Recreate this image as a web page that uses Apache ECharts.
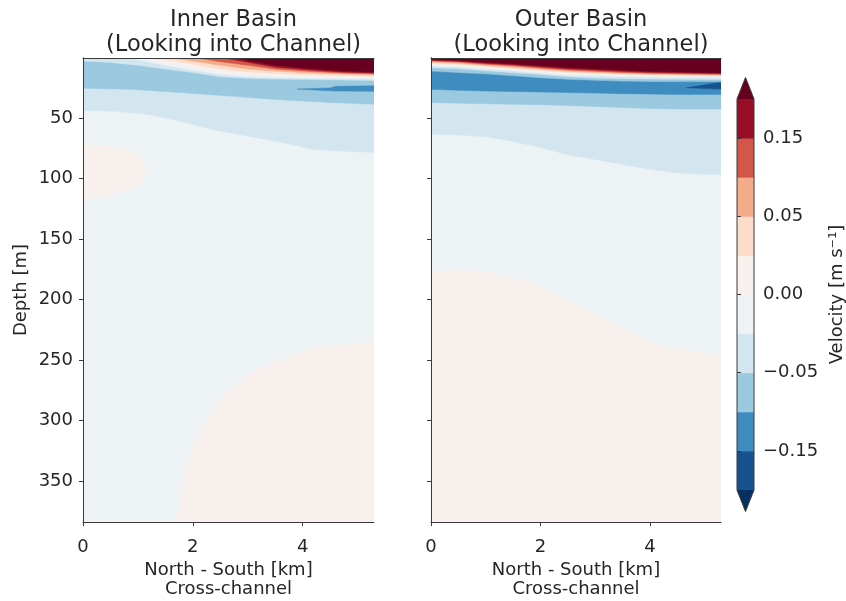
<!DOCTYPE html>
<html><head><meta charset="utf-8">
<script src="https://cdn.jsdelivr.net/npm/echarts@6/dist/echarts.min.js"></script>
<style>html,body{margin:0;padding:0;background:#fff}#c{width:846px;height:601px}</style>
</head><body><div id="c"></div>
<script>
// ================= DATA =================
const levels = [-0.2, -0.15, -0.1, -0.05, -0.025, 0, 0.025, 0.05, 0.1, 0.15, 0.2];
const cbarTickLevels = [-0.15, -0.05, 0, 0.05, 0.15];
const xTicks = [0, 2, 4];
const depthTicks = [50, 100, 150, 200, 250, 300, 350];
const xRange = [0, 5.3];
const depthRange = [0.5, 384];
const panelTitles = ['Inner Basin\n(Looking into Channel)', 'Outer Basin\n(Looking into Channel)'];

// Inner basin contour lines: [cross-channel km, depth m]
const inner_p200  = [[2.8,0],[3.0,2.5],[3.5,6.5],[4.1,9],[4.7,11],[5.3,12]];
const inner_p150  = [[2.45,0],[2.7,1.5],[3.0,4],[3.5,8],[4.1,10.3],[4.7,12],[5.3,12.8]];
const inner_p100  = [[2.0,0],[2.5,3.5],[3.0,6.5],[3.5,9.5],[4.1,11.5],[4.7,12.8],[5.3,13.6]];
const inner_p050  = [[1.55,0],[2.0,3],[2.5,6.5],[3.0,9.5],[3.5,11.3],[4.1,12.8],[4.7,13.8],[5.3,14.5]];
const inner_p025  = [[1.2,0],[1.5,2],[2.0,5.5],[2.5,9.5],[3.0,12],[3.5,13.3],[4.1,14.3],[4.7,15],[5.3,15.5]];
const inner_z000  = [[0.95,0],[1.5,4.5],[2.0,8],[2.5,12],[3.0,14],[3.5,15],[4.1,15.8],[4.7,16.2],[5.3,16.6]];
const inner_m025u = [[0.7,0],[1.0,2],[1.5,6.5],[2.0,10.5],[2.5,14],[3.0,15.8],[3.5,16.5],[4.1,17],[4.7,17.4],[5.3,17.7]];
const inner_m050u = [[0,3],[0.5,4.2],[1.0,6.5],[1.5,9.5],[2.0,12.5],[2.5,16],[3.0,17.3],[3.5,17.9],[4.1,18.2],[4.7,18.6],[5.3,19]];
const inner_m100lens = [[3.9,26.2],[4.5,25.2],[4.6,23.9],[5.3,23.5],[5.3,28],[4.6,27.8],[4.3,27.2]];
const inner_m050l = [[0,25.6],[0.85,26.4],[1.76,29],[2.67,32],[3.5,34.7],[4.4,37],[5.3,38.8]];
const inner_m025l = [[0,43.8],[0.5,44.4],[1.16,47],[1.76,52.6],[2.36,59.5],[2.98,65],[3.58,70],[4.18,76],[4.8,77.7],[5.3,78.5]];
const inner_blob  = [[0,72],[0.5,73.5],[0.9,77.5],[1.05,82],[1.16,92.6],[1.05,104],[0.9,108],[0.5,114],[0,117]];
const inner_deep  = [[1.71,384],[1.82,349],[2.0,321],[2.25,299],[2.55,280],[2.98,263],[3.58,250],[4.18,241],[4.98,236],[5.3,236]];

// Outer basin contour depths (m) at these cross-channel positions (km)
const outerX      = [0, 0.5, 1, 1.5, 2, 2.5, 3, 3.5, 4, 4.5, 5, 5.3];
const outer_p200  = [1.7, 2.4, 4, 5.2, 6.8, 8.3, 9.3, 10.5, 11.4, 11.9, 12.3, 12.6];
const outer_p150  = [2.3, 3.1, 4.8, 6.1, 7.8, 9.4, 10.4, 11.5, 12.3, 12.7, 13.1, 13.3];
const outer_p100  = [3, 3.9, 5.6, 7, 8.8, 10.4, 11.4, 12.4, 13.1, 13.5, 13.8, 14];
const outer_p050  = [4, 4.9, 6.6, 8.1, 9.9, 11.5, 12.4, 13.3, 13.9, 14.2, 14.5, 14.7];
const outer_p025  = [5, 5.9, 7.6, 9.1, 10.9, 12.5, 13.3, 14.1, 14.6, 14.9, 15.1, 15.3];
const outer_z000  = [6, 6.9, 8.6, 10.1, 11.9, 13.5, 14.2, 14.9, 15.4, 15.6, 15.8, 16];
const outer_m025u = [7, 7.9, 9.6, 11.1, 12.9, 14.6, 15.2, 15.8, 16.2, 16.4, 16.6, 16.8];
const outer_m050u = [8.5, 9.4, 11, 12.6, 14.2, 16, 17.1, 17.6, 17.9, 18.1, 18.2, 18.3];
const outer_m100u = [11.3, 12.5, 13.6, 15.1, 16.8, 18, 18.9, 19.6, 19.9, 20, 20, 20.1];
const outer_m100l = [26.4, 27.2, 27.8, 28.2, 28.6, 29.1, 29.5, 30, 30.3, 30.6, 30.6, 30.6];
const outer_m050l = [37.2, 37.8, 38.3, 38.8, 39.2, 39.8, 40.6, 41.4, 42.3, 42.6, 42.6, 42.6];
const outer_m025l = [63.6, 64.2, 65.5, 69.5, 74.5, 80.5, 84.3, 88.5, 92.5, 95.5, 96.7, 96.7];
const outer_deep  = [177, 176, 177, 182, 190, 200, 212, 225, 235, 241, 244, 245];
const outer_m150lens = [[4.67,25],[4.9,23.5],[5.1,22],[5.3,20.5],[5.3,26.2],[5.0,25.8],[4.8,25.3]];

// ================= STYLE =================
const bandColors = ['#16528f','#3f8dc0','#9ac9e0','#d3e6f0','#edf2f5','#f8f0ec','#fddcca','#f5ac8b','#d25749','#960f27'];
const underColor = '#053061', overColor = '#67001f';
const FONT = 'DejaVu Sans', TXT = '#262626', AX = '#3a3a3a';

const zipX = (xs, ds) => xs.map((x, i) => [x, ds[i]]);
const band = lv => bandColors[levels.indexOf(lv)];   // band whose lower bound is lv

const innerLayers = [
  {line: inner_blob, fill: 'closed', color: band(0)},
  {line: inner_deep, fill: 'down', color: band(0)},
  {line: inner_m025l, fill: 'up', color: band(-0.05)},
  {line: inner_m050l, fill: 'up', color: band(-0.1)},
  {line: inner_m100lens, fill: 'closed', color: band(-0.15)},
  {line: inner_m050u, fill: 'up', color: band(-0.05)},
  {line: inner_m025u, fill: 'up', color: band(-0.025)},
  {line: inner_z000, fill: 'up', color: band(0)},
  {line: inner_p025, fill: 'up', color: band(0.025)},
  {line: inner_p050, fill: 'up', color: band(0.05)},
  {line: inner_p100, fill: 'up', color: band(0.1)},
  {line: inner_p150, fill: 'up', color: band(0.15)},
  {line: inner_p200, fill: 'up', color: overColor}
];
const outerLayers = [
  {line: zipX(outerX, outer_deep), fill: 'down', color: band(0)},
  {line: zipX(outerX, outer_m025l), fill: 'up', color: band(-0.05)},
  {line: zipX(outerX, outer_m050l), fill: 'up', color: band(-0.1)},
  {line: zipX(outerX, outer_m100l), fill: 'up', color: band(-0.15)},
  {line: outer_m150lens, fill: 'closed', color: band(-0.2)},
  {line: zipX(outerX, outer_m100u), fill: 'up', color: band(-0.1)},
  {line: zipX(outerX, outer_m050u), fill: 'up', color: band(-0.05)},
  {line: zipX(outerX, outer_m025u), fill: 'up', color: band(-0.025)},
  {line: zipX(outerX, outer_z000), fill: 'up', color: band(0)},
  {line: zipX(outerX, outer_p025), fill: 'up', color: band(0.025)},
  {line: zipX(outerX, outer_p050), fill: 'up', color: band(0.05)},
  {line: zipX(outerX, outer_p100), fill: 'up', color: band(0.1)},
  {line: zipX(outerX, outer_p150), fill: 'up', color: band(0.15)},
  {line: zipX(outerX, outer_p200), fill: 'up', color: overColor}
];

function layerSeries(layers, p) {
  return {
    type: 'custom', coordinateSystem: 'cartesian2d', xAxisIndex: p * 2, yAxisIndex: p * 2,
    clip: true, silent: true, z: 2,
    data: layers.map(() => [1, 100]),
    renderItem(params, api) {
      const L = layers[params.dataIndex];
      let pts = L.line.slice();
      const first = pts[0][0], last = pts[pts.length - 1][0];
      if (L.fill === 'up') pts = pts.concat([[last, 0], [first, 0]]);
      if (L.fill === 'down') pts = pts.concat([[last, depthRange[1] + 2], [first, depthRange[1] + 2]]);
      return {type: 'polygon', shape: {points: pts.map(q => api.coord(q))},
              style: {fill: L.color, stroke: L.color, lineWidth: 0.5}};
    }
  };
}

const chart = echarts.init(document.getElementById('c'), null, {renderer: 'canvas'});
const gridsPx = [
  {left: 83, top: 58, width: 291, height: 464},
  {left: 431, top: 58, width: 290, height: 464},
  {left: 737, top: 99, width: 17, height: 391}
];
const axLine = {show: true, lineStyle: {color: AX, width: 1}};
const lblStyle = {fontFamily: FONT, fontSize: 18, color: TXT};

const xAxes = [], yAxes = [];
for (let p = 0; p < 2; p++) {
  xAxes.push({gridIndex: p, type: 'value', min: xRange[0], max: xRange[1], position: 'bottom', z: 5,
    axisLine: axLine, splitLine: {show: false},
    axisTick: {show: true, customValues: xTicks, length: 4, lineStyle: {color: AX}},
    axisLabel: Object.assign({customValues: xTicks, margin: 16}, lblStyle),
    name: 'North - South [km]\nCross-channel', nameLocation: 'middle', nameGap: 38,
    nameTextStyle: Object.assign({lineHeight: 19}, lblStyle)});
  xAxes.push({gridIndex: p, type: 'value', min: xRange[0], max: xRange[1], position: 'top', z: 5,
    axisLine: axLine, splitLine: {show: false}, axisTick: {show: false}, axisLabel: {show: false}});
  yAxes.push({gridIndex: p, type: 'value', inverse: true, min: depthRange[0], max: depthRange[1], position: 'left', z: 5,
    axisLine: axLine, splitLine: {show: false},
    axisTick: {show: true, customValues: depthTicks, length: 4, lineStyle: {color: AX}},
    axisLabel: Object.assign({show: p === 0, customValues: depthTicks, margin: 10}, lblStyle),
    name: p === 0 ? 'Depth [m]' : '', nameLocation: 'middle', nameGap: 53, nameTextStyle: lblStyle});
  yAxes.push({gridIndex: p, type: 'value', inverse: true, min: depthRange[0], max: depthRange[1], position: 'right', z: 5,
    axisLine: axLine, splitLine: {show: false}, axisTick: {show: false}, axisLabel: {show: false}});
}
const cbarPos = cbarTickLevels.map(l => levels.indexOf(l));
const fmtLevel = v => { const s = Math.abs(v).toFixed(2); return v < 0 ? '\u2212' + s : s; };
xAxes.push({gridIndex: 2, type: 'value', min: 0, max: 1, show: false});
yAxes.push({gridIndex: 2, type: 'value', min: 0, max: levels.length - 1, position: 'right', z: 5,
  axisLine: {show: false}, splitLine: {show: false},
  axisTick: {show: true, customValues: cbarPos, length: 4, lineStyle: {color: AX}},
  axisLabel: Object.assign({customValues: cbarPos, margin: 9, formatter: v => fmtLevel(levels[Math.round(v)])}, lblStyle),
  name: 'Velocity [m s\u207B\u00B9]', nameLocation: 'middle', nameRotate: 90, nameGap: 74, nameTextStyle: lblStyle});

const ext = 0.55;
const cbarItems = bandColors.map((c, i) => ({kind: 'band', i, color: c}))
  .concat([{kind: 'under', color: underColor}, {kind: 'over', color: overColor}, {kind: 'outline'}]);
const nB = bandColors.length;
const cbarSeries = {
  type: 'custom', coordinateSystem: 'cartesian2d', xAxisIndex: 4, yAxisIndex: 4, silent: true, z: 3,
  data: cbarItems.map(() => [0.5, 5]),
  renderItem(params, api) {
    const it = cbarItems[params.dataIndex];
    if (it.kind === 'band') {
      const a = api.coord([0, it.i + 1]), b = api.coord([1, it.i]);
      return {type: 'rect', shape: {x: a[0], y: a[1], width: b[0] - a[0], height: b[1] - a[1] + 0.5}, style: {fill: it.color}};
    }
    if (it.kind === 'under')
      return {type: 'polygon', shape: {points: [[0, 0], [1, 0], [0.5, -ext]].map(q => api.coord(q))}, style: {fill: it.color}};
    if (it.kind === 'over')
      return {type: 'polygon', shape: {points: [[0, nB], [1, nB], [0.5, nB + ext]].map(q => api.coord(q))}, style: {fill: it.color}};
    return {type: 'polygon', shape: {points: [[0.5, -ext], [0, 0], [0, nB], [0.5, nB + ext], [1, nB], [1, 0]].map(q => api.coord(q))},
            style: {fill: 'none', stroke: AX, lineWidth: 1}};
  }
};

chart.setOption({
  animation: false,
  backgroundColor: '#fff',
  title: panelTitles.map((t, p) => ({
    text: t, left: gridsPx[p].left + gridsPx[p].width / 2, top: 3, textAlign: 'center',
    textStyle: {fontFamily: FONT, fontSize: 22.5, fontWeight: 'normal', color: TXT, lineHeight: 25}
  })),
  grid: gridsPx.map((g, i) => Object.assign({show: i < 2, backgroundColor: bandColors[4], borderWidth: 0,
    containLabel: false, outerBoundsMode: 'none'}, g)),
  xAxis: xAxes,
  yAxis: yAxes,
  series: [layerSeries(innerLayers, 0), layerSeries(outerLayers, 1), cbarSeries]
});
</script></body></html>
